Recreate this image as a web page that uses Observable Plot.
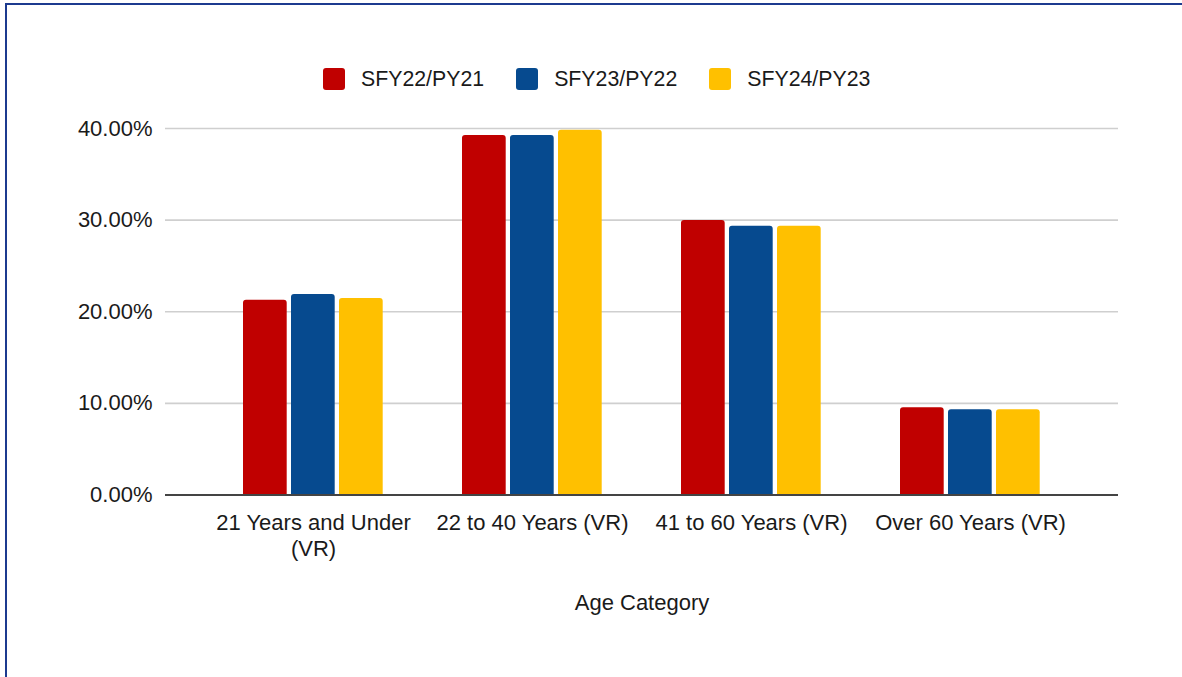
<!DOCTYPE html>
<html>
<head>
<meta charset="utf-8">
<script src="https://cdn.jsdelivr.net/npm/d3@7"></script>
<script src="https://cdn.jsdelivr.net/npm/@observablehq/plot@0.6"></script>
<style>
  html, body { margin: 0; padding: 0; background: #fff; }
  body { width: 1182px; height: 677px; overflow: hidden; position: relative; font-family: "Liberation Sans", Arial, sans-serif; color: #1a1a1a; }
  #frame { position: absolute; left: 5px; top: 3px; width: 1300px; height: 800px; border-left: 2px solid #1c3a8f; border-top: 2px solid #1c3a8f; box-sizing: border-box; pointer-events: none; }
  #legend { position: absolute; left: 323px; top: 68px; height: 22px; display: flex; align-items: center; font-size: 21.3px; }
  .item { display: flex; align-items: center; margin-right: 32px; }
  .sw { width: 22px; height: 22px; border-radius: 3px; margin-right: 16px; }
  #chart { position: absolute; left: 0; top: 100px; }
</style>
</head>
<body>
<div id="frame"></div>
<div id="legend"></div>
<div id="chart"></div>
<script>
// ---- data ----
const categories = ["21 Years and Under (VR)", "22 to 40 Years (VR)", "41 to 60 Years (VR)", "Over 60 Years (VR)"];
const tickLabels = ["21 Years and Under\n(VR)", "22 to 40 Years (VR)", "41 to 60 Years (VR)", "Over 60 Years (VR)"];
const seriesNames = ["SFY22/PY21", "SFY23/PY22", "SFY24/PY23"];
const sfy22 = [0.2126, 0.3924, 0.2996, 0.0952];
const sfy23 = [0.2188, 0.3924, 0.2934, 0.0930];
const sfy24 = [0.2145, 0.3980, 0.2934, 0.0930];
const yTicks = [0, 0.1, 0.2, 0.3, 0.4];
const colors = ["#c00000", "#064a8f", "#ffc000"];

const seriesValues = [sfy22, sfy23, sfy24];
const rows = [];
seriesNames.forEach((s, si) => categories.forEach((c, ci) => rows.push({category: c, series: s, value: seriesValues[si][ci]})));

// legend
const legend = document.getElementById("legend");
seriesNames.forEach((s, i) => {
  const it = document.createElement("div");
  it.className = "item";
  it.innerHTML = `<div class="sw" style="background:${colors[i]}"></div><span>${s}</span>`;
  legend.appendChild(it);
});

const barW = 44, gap = 4, bandW = 140.3;
const insets = seriesNames.map((s, i) => ({
  insetLeft: i * (barW + gap),
  insetRight: bandW - barW - i * (barW + gap)
}));

const plot = Plot.plot({
  width: 1182,
  height: 560,
  marginLeft: 165,
  marginRight: 64,
  marginTop: 28,
  marginBottom: 165.5,
  style: {fontFamily: "Liberation Sans, Arial, sans-serif", fontSize: "22px", color: "#1a1a1a", background: "transparent"},
  x: {domain: categories, paddingInner: 0.36, paddingOuter: 0.353},
  y: {domain: [0, 0.4]},
  color: {domain: seriesNames, range: colors},
  marks: [
    Plot.ruleY(yTicks.filter(d => d > 0), {stroke: "#cfcfcf", strokeWidth: 1.6}),
    ...seriesNames.map((s, i) => Plot.barY(rows.filter(r => r.series === s), {
      x: "category", y: "value", fill: "series", ry1: 3, ...insets[i]
    })),
    Plot.ruleY([0], {stroke: "#444", strokeWidth: 2}),
    Plot.axisY({ticks: yTicks, tickFormat: d3.format(".2%"), tickSize: 0, tickPadding: 13, label: null, fontSize: 22}),
    Plot.axisX({tickSize: 0, tickPadding: 16, tickFormat: d => tickLabels[categories.indexOf(d)], lineHeight: 1.2, fontSize: 22,
      label: "Age Category", labelAnchor: "center", labelOffset: 115, labelArrow: "none"})
  ]
});
document.getElementById("chart").appendChild(plot);
</script>
</body>
</html>
